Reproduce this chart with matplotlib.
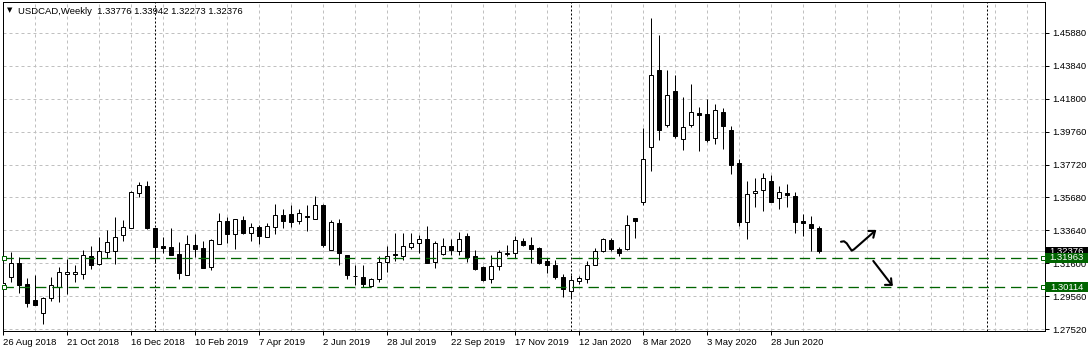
import matplotlib
matplotlib.use("Agg")
import matplotlib.pyplot as plt
import matplotlib.transforms as mtransforms
from matplotlib.patches import Rectangle

W, H, DPI = 1091, 353, 100
PX = 72.0 / DPI  # one pixel in points

# ── Weekly USDCAD candles, first bar = week of 26 Aug 2018 ──────────────────
opens = [1.3013, 1.3075, 1.3162, 1.3031, 1.2932, 1.2852, 1.2945, 1.3016, 1.3093, 1.3093,
         1.3093, 1.3205, 1.3155, 1.3230, 1.3236, 1.3335, 1.3382, 1.3596, 1.3641, 1.3379,
         1.3269, 1.3261, 1.3219, 1.3091, 1.3273, 1.3255, 1.3137, 1.3279, 1.3422, 1.3343,
         1.3428, 1.3348, 1.3385, 1.3323, 1.3385, 1.3459, 1.3465, 1.3422, 1.3453, 1.3436,
         1.3523, 1.3242, 1.3410, 1.3211, 1.3083, 1.3075, 1.3023, 1.3062, 1.3168, 1.3219,
         1.3203, 1.3264, 1.3289, 1.3312, 1.3171, 1.3219, 1.3269, 1.3234, 1.3331, 1.3207,
         1.3139, 1.3062, 1.3143, 1.3219, 1.3224, 1.3298, 1.3273, 1.3255, 1.3176, 1.3149,
         1.3075, 1.2988, 1.3050, 1.3062, 1.3149, 1.3234, 1.3304, 1.3248, 1.3252, 1.3440,
         1.3543, 1.3881, 1.4358, 1.4015, 1.4230, 1.3930, 1.4015, 1.4091, 1.4085, 1.3937,
         1.4098, 1.3988, 1.3782, 1.3416, 1.3596, 1.3614, 1.3670, 1.3565, 1.3594, 1.3579,
         1.3424, 1.3403, 1.33776]
highs = [1.3095, 1.3232, 1.3199, 1.3069, 1.3087, 1.2954, 1.3075, 1.3137, 1.3186, 1.3149,
         1.3240, 1.3269, 1.3323, 1.3368, 1.3447, 1.3430, 1.3606, 1.3664, 1.3672, 1.3380,
         1.3325, 1.3379, 1.3294, 1.3335, 1.3343, 1.3300, 1.3312, 1.3472, 1.3447, 1.3436,
         1.3455, 1.3410, 1.3395, 1.3413, 1.3527, 1.3496, 1.3521, 1.3496, 1.3521, 1.3575,
         1.3527, 1.3426, 1.3434, 1.3213, 1.3151, 1.3151, 1.3070, 1.3203, 1.3269, 1.3348,
         1.3348, 1.3348, 1.3337, 1.3389, 1.3296, 1.3320, 1.3312, 1.3356, 1.3348, 1.3244,
         1.3143, 1.3213, 1.3244, 1.3275, 1.3331, 1.3317, 1.3323, 1.3264, 1.3193, 1.3182,
         1.3093, 1.3089, 1.3079, 1.3176, 1.3255, 1.3320, 1.3320, 1.3264, 1.3461, 1.3442,
         1.3999, 1.4676, 1.4571, 1.4360, 1.4327, 1.4191, 1.4273, 1.4126, 1.4180, 1.4147,
         1.4124, 1.4011, 1.3806, 1.3672, 1.3688, 1.3719, 1.3709, 1.3641, 1.3653, 1.3602,
         1.3467, 1.3455, 1.33942]
lows = [1.2889, 1.3047, 1.2979, 1.2889, 1.2903, 1.2783, 1.2930, 1.2920, 1.2969, 1.3047,
        1.3062, 1.3128, 1.3147, 1.3193, 1.3159, 1.3298, 1.3376, 1.3571, 1.3374, 1.3165,
        1.3227, 1.3213, 1.3066, 1.3087, 1.3199, 1.3132, 1.3116, 1.3277, 1.3286, 1.3252,
        1.3341, 1.3296, 1.3283, 1.3321, 1.3341, 1.3379, 1.3385, 1.3403, 1.3360, 1.3432,
        1.3264, 1.3240, 1.3151, 1.3064, 1.3029, 1.3016, 1.3016, 1.3046, 1.3109, 1.3176,
        1.3184, 1.3252, 1.3224, 1.3160, 1.3134, 1.3209, 1.3213, 1.3209, 1.3171, 1.3120,
        1.3052, 1.3041, 1.3116, 1.3207, 1.3193, 1.3270, 1.3162, 1.3157, 1.3103, 1.3066,
        1.2954, 1.2945, 1.3031, 1.3037, 1.3147, 1.3232, 1.3234, 1.3203, 1.3244, 1.3317,
        1.3519, 1.3729, 1.3922, 1.4002, 1.3937, 1.3860, 1.4002, 1.3854, 1.3909, 1.3902,
        1.3870, 1.3715, 1.3393, 1.3312, 1.3506, 1.3486, 1.3541, 1.3496, 1.3506, 1.3351,
        1.3331, 1.3234, 1.32273]
closes = [1.3041, 1.3165, 1.3029, 1.2914, 1.2905, 1.2945, 1.3025, 1.3106, 1.3106, 1.3106,
          1.3211, 1.3147, 1.3236, 1.3292, 1.3323, 1.3385, 1.3602, 1.3645, 1.3376, 1.3264,
          1.3256, 1.3215, 1.3103, 1.3279, 1.3246, 1.3134, 1.3304, 1.3422, 1.3341, 1.3432,
          1.3351, 1.3385, 1.3329, 1.3391, 1.3459, 1.3420, 1.3416, 1.3472, 1.3447, 1.3521,
          1.3271, 1.3416, 1.3224, 1.3087, 1.3079, 1.3031, 1.3062, 1.3168, 1.3205, 1.3211,
          1.3267, 1.3287, 1.3310, 1.3162, 1.3289, 1.3269, 1.3240, 1.3312, 1.3199, 1.3126,
          1.3058, 1.3143, 1.3230, 1.3227, 1.3304, 1.3271, 1.3252, 1.3165, 1.3149, 1.3077,
          1.3000, 1.3058, 1.3069, 1.3151, 1.3238, 1.3310, 1.3250, 1.3227, 1.3397, 1.3425,
          1.3806, 1.4327, 1.3984, 1.4203, 1.3951, 1.4005, 1.4098, 1.4081, 1.3922, 1.4110,
          1.4009, 1.3767, 1.3419, 1.3589, 1.3610, 1.3688, 1.3543, 1.3602, 1.3581, 1.3419,
          1.3410, 1.3382, 1.32376]

date_labels = ["26 Aug 2018", "21 Oct 2018", "16 Dec 2018", "10 Feb 2019", "7 Apr 2019",
               "2 Jun 2019", "28 Jul 2019", "22 Sep 2019", "17 Nov 2019", "12 Jan 2020",
               "8 Mar 2020", "3 May 2020", "28 Jun 2020"]
label_step = 8          # bars between date labels
grid_step = 4           # bars between vertical grid lines
year_breaks = [19, 71, 123]   # first weekly bar of 2019, 2020, 2021

price_ticks = [1.27520, 1.29560, 1.31600, 1.33640, 1.35680,
               1.37720, 1.39760, 1.41800, 1.43840, 1.45880]
levels = [1.31963, 1.30114]
bid = 1.32376

# hand drawn arrows (bar index, price)
swoosh = [(104.71, 1.3294), (105.09, 1.3297), (105.43, 1.3284), (105.75, 1.3260),
          (106.05, 1.3239), (106.34, 1.3247), (108.96, 1.3361)]
swoosh_head = [(108.13, 1.3361), (108.96, 1.3361), (108.75, 1.3319)]
down_arrow = [(108.75, 1.3175), (111.05, 1.3027)]
down_head = [(110.21, 1.3027), (111.05, 1.3027), (110.97, 1.3068)]

# ── Figure / axes in pixel units ─────────────────────────────────────────────
FONT = ["Liberation Sans", "DejaVu Sans"]
plt.rcParams["font.family"] = FONT
fig = plt.figure(figsize=(W / DPI, H / DPI), dpi=DPI)
L, R, T, B = 2.5, 1045.0, 2.0, 331.0
ax = fig.add_axes([L / W, (H - B) / H, (R - L) / W, (B - T) / H])
aw = R - L

xmin = (L - 3.3) / 8.0
xmax = (R - 3.3) / 8.0
ax.set_xlim(xmin, xmax)
ax.set_ylim(1.27415, 1.47780)

n = len(opens)
xs = list(range(n))

# grid
for gx in range(grid_step, int(xmax) + 1, grid_step):
    ax.axvline(gx, color="#c0c0c0", lw=PX, ls=(0, (3, 3)), zorder=1, snap=True)
for p in price_ticks:
    ax.axhline(p, color="#c0c0c0", lw=PX, ls=(0, (3, 3)), zorder=1, snap=True)

# yearly separators
for yb in year_breaks:
    ax.axvline(yb, color="black", lw=PX, ls=(0, (2, 2)), zorder=2, snap=True)

# bid line
ax.axhline(bid, color="#c0c0c0", lw=PX, zorder=2, snap=True)

# candles
ax.vlines(xs, lows, highs, color="black", lw=PX, zorder=3)
for i in xs:
    o, c = opens[i], closes[i]
    up = c >= o
    ax.bar(i, abs(c - o), bottom=min(o, c), width=0.5,
           color="white" if up else "black", edgecolor="black",
           linewidth=PX, zorder=4)

# support / resistance levels
for lv in levels:
    ax.axhline(lv, color="#006400", lw=1.3 * PX, ls=(0, (8, 4.5)), zorder=5, snap=True)
    for mx in (xmin + 0.22, xmax - 0.25):
        ax.plot(mx, lv, marker="s", ms=4 * PX, mfc="white", mec="#006400",
                mew=PX, zorder=6, clip_on=False)

# arrows
for pts in (swoosh, swoosh_head, down_arrow, down_head):
    ax.plot([p[0] for p in pts], [p[1] for p in pts], color="black",
            lw=1.5, solid_capstyle="round", solid_joinstyle="round", zorder=6)

# axes styling
for s in ax.spines.values():
    s.set_color("black")
    s.set_linewidth(PX)
ax.yaxis.tick_right()
ax.set_yticks(price_ticks)
ax.set_yticklabels([f"{p:.5f}" for p in price_ticks])
ax.set_xticks([i * label_step for i in range(len(date_labels))])
ax.set_xticklabels(date_labels, ha="left")
ax.tick_params(axis="x", direction="out", length=3, width=PX, pad=2,
               labelsize=6.8, colors="black")
ax.tick_params(axis="y", direction="out", length=3, width=PX, pad=2,
               labelsize=6.8, colors="black")
ax.grid(False)

# price boxes on the right scale
tr = mtransforms.blended_transform_factory(ax.transAxes, ax.transData)
box_w = 43.0 / aw
bid_box = Rectangle((1.0, bid - 0.0025), box_w, 0.005, transform=tr,
                    facecolor="black", edgecolor="none", clip_on=False, zorder=7)
ax.add_patch(bid_box)
bid_txt = ax.text(1.0 + box_w / 2, bid - 0.0006, f"{bid:.5f}", transform=tr,
                  ha="center", va="center", color="white", fontsize=6.8, zorder=8)
bid_txt.set_clip_path(bid_box)
for lv in levels:
    ax.add_patch(Rectangle((1.0, lv - 0.0031), box_w, 0.0062, transform=tr,
                           facecolor="#006400", edgecolor="none", clip_on=False, zorder=9))
    ax.text(1.0 + box_w / 2, lv, f"{lv:.5f}", transform=tr, ha="center", va="center",
            color="white", fontsize=6.8, clip_on=False, zorder=10)

# header
fig.text(9.5 / W, 1 - 10.5 / H, "\u25bc", family="DejaVu Sans", fontsize=5,
         ha="center", va="center", color="black")
fig.text(18 / W, 1 - 11 / H,
         f"USDCAD,Weekly  {opens[-1]:.5f} {highs[-1]:.5f} {lows[-1]:.5f} {closes[-1]:.5f}",
         fontsize=6.8, ha="left", va="center", color="black")

fig.savefig("out.png", dpi=DPI)
